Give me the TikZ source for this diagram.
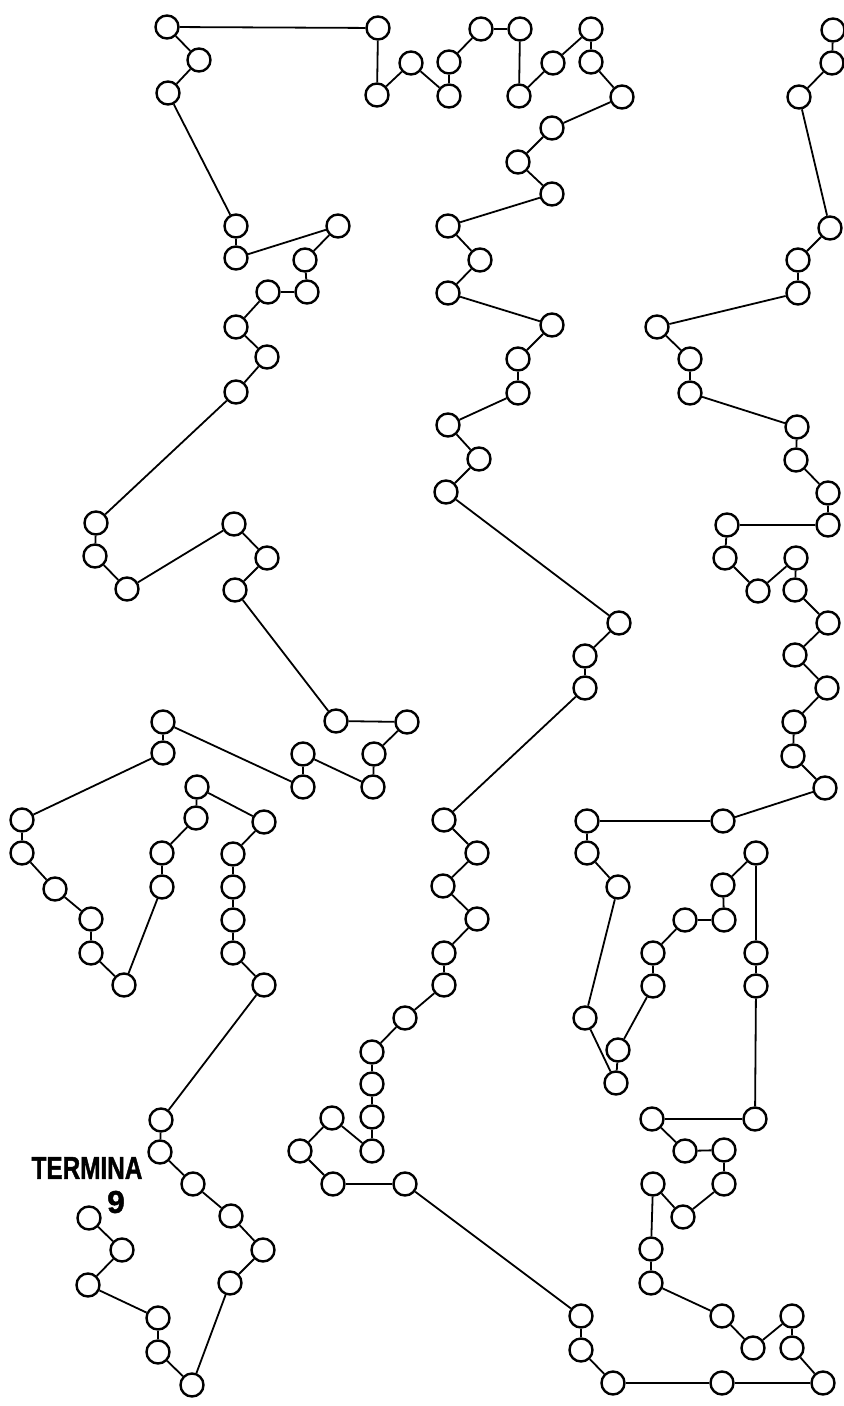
\documentclass[tikz,border=0pt]{standalone}
\usepackage{fontspec}
\newfontfamily\rotulo[BoldFeatures={FakeBold=1.5}]{Liberation Sans}
\usetikzlibrary{positioning}

\tikzset{
    punto/.style={circle, draw, line width=1.2pt, minimum size=11.5pt, inner sep=0pt},
    trazo/.style={line width=0.9pt},
    etiqueta/.style={font=\rotulo\bfseries\fontsize{15.8}{16}\selectfont, inner sep=0pt}
}

\begin{document}
\begin{tikzpicture}[x=0.5pt, y=-0.5pt]

\useasboundingbox (0,0) rectangle (844,1406);

% === Puntos del recorrido (en orden) ===
\foreach \x/\y [count=\i] in {
    833/30, 832/63, 799/97, 830/228, 798/260, 798/293, 657/327, 690/359,
    690/393, 797/427, 796/460, 828/493, 828/525, 727/525, 725/558, 758/591,
    796/558, 795/590, 828/623, 795/655, 827/688, 794/722, 793/756, 825/788,
    723/821, 587/821, 587/853, 618/887, 585/1018, 616/1083, 618/1050, 653/986,
    653/953, 685/920, 724/920, 723/885, 756/853, 756/953, 756/986, 755/1119,
    652/1119, 685/1151, 724/1150, 724/1184, 683/1217, 653/1184, 651/1249, 651/1283,
    722/1316, 753/1348, 792/1316, 792/1348, 823/1383, 722/1383, 613/1383, 581/1350,
    581/1316, 405/1184, 333/1184, 300/1151, 332/1118, 372/1151, 372/1117, 372/1084,
    372/1052, 405/1018, 444/985, 444/953, 477/919, 443/886, 477/853, 444/820,
    585/688, 585/656, 619/623, 446/492, 479/459, 448/425, 518/393, 518/359,
    552/325, 448/293, 480/260, 448/226, 552/194, 518/162, 552/128, 622/97,
    591/62, 591/29, 553/63, 519/96, 520/29, 481/29, 449/62, 449/96,
    411/63, 377/95, 378/28, 167/27, 199/60, 168/93, 236/226, 236/258,
    338/226, 305/260, 307/292, 268/292, 236/327, 267/357, 236/392, 96/523,
    95/556, 127/589, 234/524, 267/558, 235/590, 336/721, 407/722, 374/754,
    373/787, 303/754, 303/787, 163/722, 163/753, 22/820, 22/853, 55/889,
    91/919, 91/953, 124/985, 162/887, 162/853, 196/818, 197/787, 264/822,
    233/854, 233/887, 233/920, 233/953, 264/985, 161/1120, 160/1152, 193/1184,
    231/1216, 263/1250, 230/1283, 192/1385, 158/1352, 158/1318, 88/1285, 122/1250,
    89/1218
} {
    \node[punto] (p\i) at (\x,\y) {};
}

% === Trazos entre puntos consecutivos ===
\foreach \i [count=\j from 2] in {1,...,152} {
    \draw[trazo] (p\i) -- (p\j);
}

% === Final ===
\node[etiqueta] (termina) at (87,1168) {\scalebox{0.77}[1]{TERMINA}};
\node[etiqueta] (nueve) at (116,1202) {9};

\end{tikzpicture}
\end{document}
